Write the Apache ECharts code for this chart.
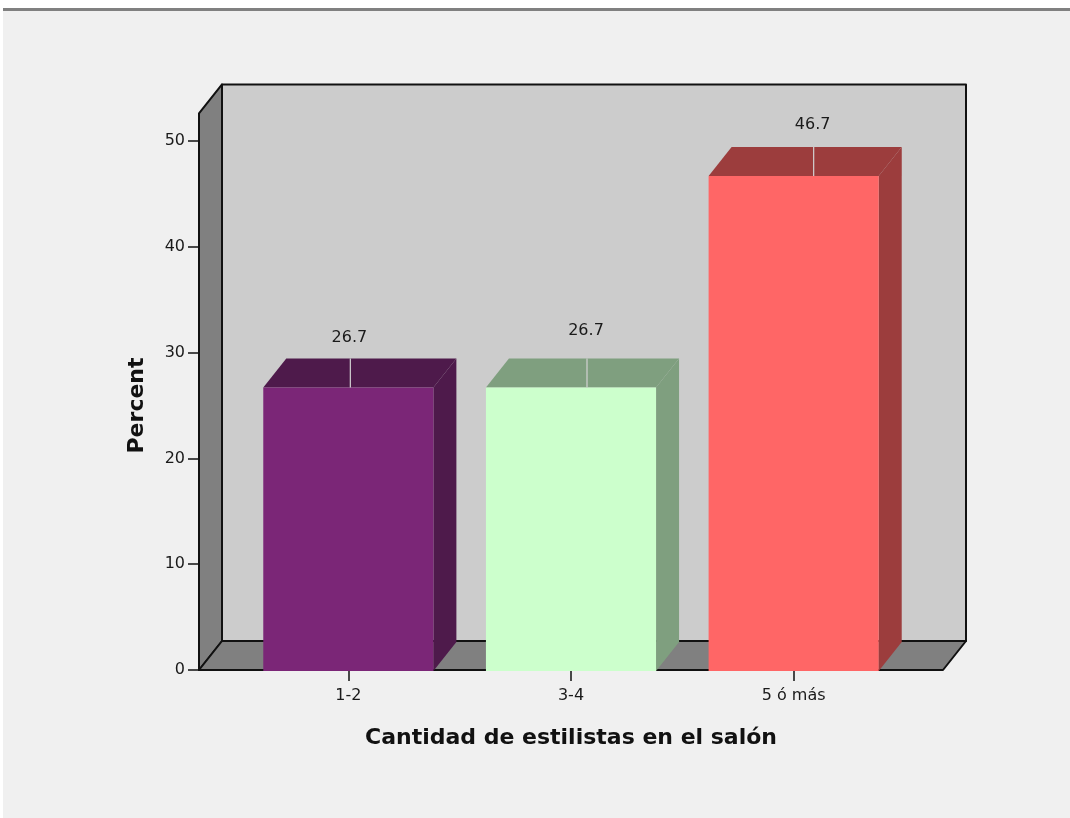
<!DOCTYPE html>
<html>
<head>
<meta charset="utf-8">
<title>Cantidad de estilistas en el salón</title>
<script src="https://cdn.jsdelivr.net/npm/echarts@6/dist/echarts.min.js"></script>
<style>
  html, body { margin: 0; padding: 0; background: #ffffff; }
  #chart { width: 1070px; height: 818px; }
</style>
</head>
<body>
<div id="chart"></div>
<script>
// Data
const categories = ['1-2', '3-4', '5 ó más'];
const percents = [26.7, 26.7, 46.7];
const axisMin = 0;
const axisMax = 50;
const axisStep = 10;
const wallTopValue = 52.6;

// Styling
const frontColors = ['#7b2677', '#ccffcc', '#ff6666'];
const shadeColors = ['#4e1a4b', '#7f9f7f', '#9c3d3d'];
const WALL_PAD = 38;        // px the box extends past the outer category bands
const DEPTH_X = 23;         // 3D depth offset
const DEPTH_Y = 29;
const BAR_RATIO = 0.764;    // bar width share of a category band
const LABEL_NUDGE = [[2, 21], [16, 28], [20, 22]];  // [x shift, gap above bar back edge]
const FONT = '"DejaVu Sans", Verdana, sans-serif';
const INK = '#1a1a1a';

const chart = echarts.init(document.getElementById('chart'), null, { renderer: 'canvas' });

// Back wall, left wall and floor of the 3D box
function renderBox(params, api) {
  const band = api.size([1, 0])[0];
  const first = api.coord([0, axisMin]);
  const last = api.coord([categories.length - 1, axisMin]);
  const topY = api.coord([0, wallTopValue])[1];
  const xL = first[0] - band / 2 - WALL_PAD;
  const xR = last[0] + band / 2 + WALL_PAD;
  const yB = first[1];
  const dx = DEPTH_X, dy = DEPTH_Y;
  const edge = { stroke: '#111111', lineWidth: 2, lineJoin: 'round' };
  return {
    type: 'group',
    children: [
      { type: 'polygon', shape: { points: [[xL + dx, topY - dy], [xR + dx, topY - dy], [xR + dx, yB - dy], [xL + dx, yB - dy]] },
        style: Object.assign({ fill: '#cccccc' }, edge) },
      { type: 'polygon', shape: { points: [[xL, topY], [xL + dx, topY - dy], [xL + dx, yB - dy], [xL, yB]] },
        style: Object.assign({ fill: '#808080' }, edge) },
      { type: 'polygon', shape: { points: [[xL, yB], [xL + dx, yB - dy], [xR + dx, yB - dy], [xR, yB]] },
        style: Object.assign({ fill: '#808080' }, edge) }
    ]
  };
}

// One 3D bar: front face, right side and top
function renderBar(params, api) {
  const i = api.value(0);
  const v = api.value(1);
  const base = api.coord([i, axisMin]);
  const top = api.coord([i, v]);
  const w = api.size([1, 0])[0] * BAR_RATIO;
  const xl = base[0] - w / 2, xr = base[0] + w / 2;
  const y0 = base[1] + 1, y1 = top[1];
  const dx = DEPTH_X, dy = DEPTH_Y;
  const shade = shadeColors[i];
  return {
    type: 'group',
    children: [
      { type: 'polygon', shape: { points: [[xr, y1], [xr + dx, y1 - dy], [xr + dx, y0 - dy], [xr, y0]] },
        style: { fill: shade } },
      { type: 'polygon', shape: { points: [[xl, y1], [xl + dx, y1 - dy], [xr + dx, y1 - dy], [xr, y1]] },
        style: { fill: shade } },
      { type: 'rect', shape: { x: xl, y: y1, width: w, height: y0 - y1 },
        style: { fill: frontColors[i] } }
    ]
  };
}

// Value label with its short leader across the bar top
function renderLabel(params, api) {
  const i = api.value(0);
  const v = api.value(1);
  const top = api.coord([i, v]);
  const lx = top[0] + LABEL_NUDGE[i][0];
  const backY = top[1] - DEPTH_Y;
  return {
    type: 'group',
    children: [
      { type: 'line', shape: { x1: lx, y1: backY, x2: lx, y2: top[1] },
        style: { stroke: '#d2d2d2', lineWidth: 1.2 } },
      { type: 'text',
        style: { text: v.toFixed(1), x: lx - 1, y: backY - LABEL_NUDGE[i][1],
                 align: 'center', verticalAlign: 'middle',
                 fontFamily: FONT, fontSize: 16, fill: INK } }
    ]
  };
}

const barData = percents.map((p, i) => [i, p]);

chart.setOption({
  backgroundColor: '#f0f0f0',
  animation: false,
  graphic: [
    { type: 'rect', left: 0, top: 0, shape: { width: 1070, height: 8 }, style: { fill: '#ffffff' }, z: 100 },
    { type: 'rect', left: 0, top: 8, shape: { width: 1070, height: 3 }, style: { fill: '#808080' }, z: 100 },
    { type: 'rect', left: 0, top: 0, shape: { width: 3, height: 818 }, style: { fill: '#ffffff' }, z: 101 }
  ],
  grid: { left: 237, right: 165, top: 141, bottom: 148 },
  xAxis: {
    type: 'category',
    data: categories,
    axisLine: { show: false },
    axisTick: { show: true, alignWithLabel: true, length: 11, lineStyle: { color: '#111111', width: 1.5 } },
    axisLabel: { fontFamily: FONT, fontSize: 16, color: INK, margin: 18 },
    splitLine: { show: false },
    name: 'Cantidad de estilistas en el salón',
    nameLocation: 'middle',
    nameGap: 57,
    nameTextStyle: { fontFamily: FONT, fontSize: 22, fontWeight: 'bold', color: '#111111' }
  },
  yAxis: {
    type: 'value',
    min: axisMin,
    max: axisMax,
    interval: axisStep,
    offset: WALL_PAD,
    axisLine: { show: false },
    axisTick: { show: true, length: 11, lineStyle: { color: '#111111', width: 1.5 } },
    axisLabel: { fontFamily: FONT, fontSize: 16, color: INK, margin: 14 },
    splitLine: { show: false },
    name: 'Percent',
    nameLocation: 'middle',
    nameGap: 51,
    nameRotate: 90,
    nameTextStyle: { fontFamily: FONT, fontSize: 22, fontWeight: 'bold', color: '#111111' }
  },
  series: [
    { type: 'custom', name: 'box', renderItem: renderBox, data: [[0, 0]], z: 1, silent: true },
    { type: 'custom', name: 'Percent', renderItem: renderBar, data: barData, z: 2 },
    { type: 'custom', name: 'labels', renderItem: renderLabel, data: barData, z: 3, silent: true }
  ]
});
</script>
</body>
</html>
